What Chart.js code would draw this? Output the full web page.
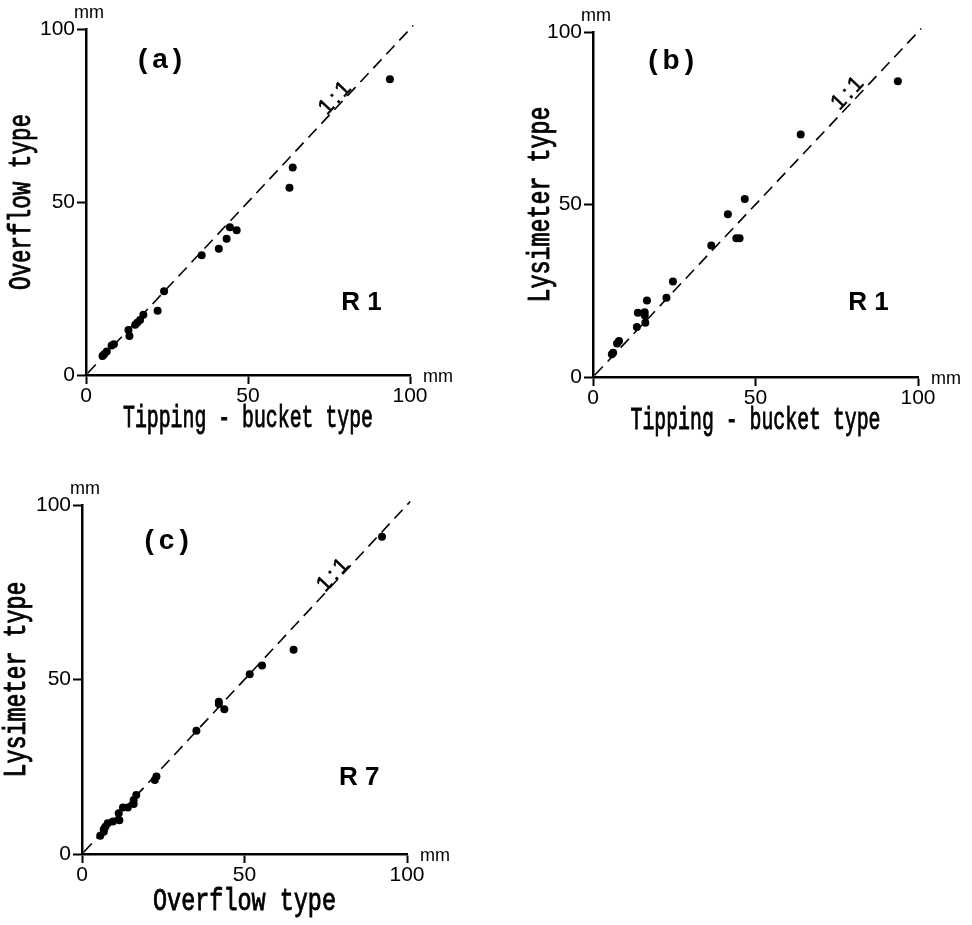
<!DOCTYPE html>
<html>
<head>
<meta charset="utf-8">
<script src="https://cdn.jsdelivr.net/npm/chart.js@4.4.1/dist/chart.umd.min.js"></script>
<style>
  html, body { margin: 0; padding: 0; background: #fff; }
  body { width: 972px; height: 925px; position: relative; overflow: hidden; }
  canvas { position: absolute; }
</style>
</head>
<body>
<canvas id="chartA" width="480" height="440" style="left:0;top:0"></canvas>
<canvas id="chartB" width="472" height="440" style="left:500px;top:0"></canvas>
<canvas id="chartC" width="480" height="445" style="left:0;top:480px"></canvas>
<script>
// (a) R 1 : tipping-bucket (x) vs overflow (y), mm
const aTipping  = [93.8, 63.8, 62.8, 44.4, 46.5, 43.4, 41.0, 35.7, 24.1, 22.1, 17.7, 16.7, 15.8, 15.2, 13.1, 13.4, 8.6, 7.9, 6.4, 5.6, 5.1];
const aOverflow = [85.5, 60.0, 54.1, 42.7, 41.8, 39.4, 36.5, 34.6, 24.2, 18.6, 17.4, 15.9, 15.1, 14.5, 13.0, 11.3, 8.9, 8.5, 6.8, 6.0, 5.5];

// (b) R 1 : tipping-bucket (x) vs lysimeter (y)
const bTipping   = [93.8, 63.9, 46.7, 41.5, 36.4, 44.1, 45.1, 24.6, 22.6, 16.6, 13.8, 15.9, 15.9, 13.5, 16.1, 8.0, 7.4, 6.2, 5.8];
const bLysimeter = [85.7, 70.3, 51.6, 47.2, 38.1, 40.2, 40.2, 27.7, 23.0, 22.2, 18.6, 18.8, 17.9, 14.5, 15.7, 10.4, 9.7, 7.0, 6.6];

// (c) R 7 : overflow (x) vs lysimeter (y)
const cOverflow  = [92.3, 65.1, 55.4, 51.6, 42.1, 42.1, 43.8, 35.2, 22.9, 22.4, 16.7, 15.9, 15.9, 14.1, 12.6, 11.3, 11.5, 9.5, 7.9, 6.7, 6.7, 5.6, 7.2];
const cLysimeter = [90.9, 58.5, 54.0, 51.5, 43.6, 43.0, 41.5, 35.3, 22.2, 21.2, 16.9, 15.5, 14.3, 13.3, 13.3, 11.7, 9.7, 9.3, 8.8, 7.1, 6.4, 5.2, 7.8];

const tickValues = [0, 50, 100];
const lineEnds = [0.5, 101];   // 1:1 reference line

const FONT = '"Liberation Sans", Arial, sans-serif';
const MONO = '"Liberation Mono", "Courier New", monospace';

const toPoints = (xs, ys) => xs.map((v, i) => ({x: v, y: ys[i]}));

// narrow typewriter-like title, squeezed to the width it has in the original
function monoText(ctx, text, width) {
  ctx.font = '32px ' + MONO;
  const k = width / ctx.measureText(text).width;
  ctx.scale(k, 1);
  ctx.lineWidth = 0.9;
  ctx.strokeText(text, 0, 0);
  ctx.fillText(text, 0, 0);
}

// labels, units and axis titles
const panelText = {
  id: 'panelText',
  afterDraw(chart, args, o) {
    const {ctx} = chart;
    const x = chart.scales.x, y = chart.scales.y;
    const px = v => x.getPixelForValue(v), py = v => y.getPixelForValue(v);
    ctx.save();
    ctx.fillStyle = '#000';
    ctx.strokeStyle = '#000';
    ctx.textAlign = 'center';
    ctx.textBaseline = 'middle';

    ctx.font = 'bold 28px ' + FONT;
    ctx.letterSpacing = '5px';
    ctx.fillText(o.label, px(o.labelAt[0]) + 2, py(o.labelAt[1]));
    ctx.letterSpacing = '0px';

    ctx.font = 'bold 26px ' + FONT;
    ctx.fillText(o.station, px(o.stationAt[0]), py(o.stationAt[1]));

    const ang = Math.atan2(py(100) - py(0), px(100) - px(0));
    ctx.save();
    ctx.translate(px(o.ratioAt[0]), py(o.ratioAt[1]));
    ctx.rotate(ang);
    ctx.font = '22px ' + FONT;
    ctx.letterSpacing = '3px';
    ctx.lineWidth = 0.6;
    ctx.strokeText('1:1', 0, 0);
    ctx.fillText('1:1', 0, 0);
    ctx.restore();

    ctx.font = '18px ' + FONT;
    ctx.fillText('mm', x.right + 28, y.bottom + 2);
    ctx.fillText('mm', x.left + 3, y.top - 16);

    ctx.save();
    ctx.translate((x.left + x.right) / 2, y.bottom + o.xTitleGap);
    monoText(ctx, o.xTitle, o.xTitleWidth);
    ctx.restore();
    ctx.save();
    ctx.translate(x.left - o.yTitleGap, (y.top + y.bottom) / 2);
    ctx.rotate(-Math.PI / 2);
    monoText(ctx, o.yTitle, o.yTitleWidth);
    ctx.restore();

    ctx.restore();
  }
};

function axis(pos, size) {
  return {
    type: 'linear', position: pos, min: 0, max: 100,
    afterBuildTicks: s => { s.ticks = tickValues.map(v => ({value: v})); },
    afterFit: s => { if (pos === 'left') s.width = size; else s.height = size; },
    border: {display: true, color: '#000', width: 2.5},
    grid: {drawOnChartArea: false, drawTicks: true, tickLength: 9, tickWidth: 2, color: '#000'},
    ticks: {color: '#000', padding: pos === 'left' ? 2 : 0, font: {family: FONT, size: 21}}
  };
}

function makeChart(id, xs, ys, pad, yWidth, xHeight, text) {
  return new Chart(document.getElementById(id), {
    type: 'scatter',
    data: {
      datasets: [{
        data: toPoints(xs, ys),
        pointRadius: 4, pointBackgroundColor: '#000', pointBorderWidth: 0
      }, {
        type: 'line',
        data: toPoints(lineEnds, lineEnds),
        borderColor: '#000', borderWidth: 1.6, borderDash: [12, 7],
        pointRadius: 0, fill: false, clip: false
      }]
    },
    options: {
      responsive: false, animation: false,
      layout: {padding: pad},
      scales: {x: axis('bottom', xHeight), y: axis('left', yWidth)},
      plugins: {legend: {display: false}, tooltip: {enabled: false}, panelText: text}
    },
    plugins: [panelText]
  });
}

makeChart('chartA', aTipping, aOverflow, {left: 0, top: 29, right: 70, bottom: 0}, 86, 65, {
  label: '(a)', labelAt: [23, 91], station: 'R 1', stationAt: [85, 21], ratioAt: [77.2, 80.3],
  xTitle: 'Tipping - bucket type', yTitle: 'Overflow type',
  xTitleGap: 44, xTitleWidth: 250, yTitleGap: 64, yTitleWidth: 176
});
makeChart('chartB', bTipping, bLysimeter, {left: 0, top: 32, right: 54, bottom: 0}, 93, 63, {
  label: '(b)', labelAt: [24.2, 91.5], station: 'R 1', stationAt: [84.8, 21.4], ratioAt: [78.7, 82.5],
  xTitle: 'Tipping - bucket type', yTitle: 'Lysimeter type',
  xTitleGap: 44, xTitleWidth: 250, yTitleGap: 52, yTitleWidth: 196
});
makeChart('chartC', cOverflow, cLysimeter, {left: 0, top: 25, right: 73, bottom: 0}, 82, 71, {
  label: '(c)', labelAt: [26.2, 89.7], station: 'R 7', stationAt: [85.3, 21.8], ratioAt: [77.6, 80.2],
  xTitle: 'Overflow type', yTitle: 'Lysimeter type',
  xTitleGap: 48, xTitleWidth: 183, yTitleGap: 65, yTitleWidth: 196
});
</script>
</body>
</html>
